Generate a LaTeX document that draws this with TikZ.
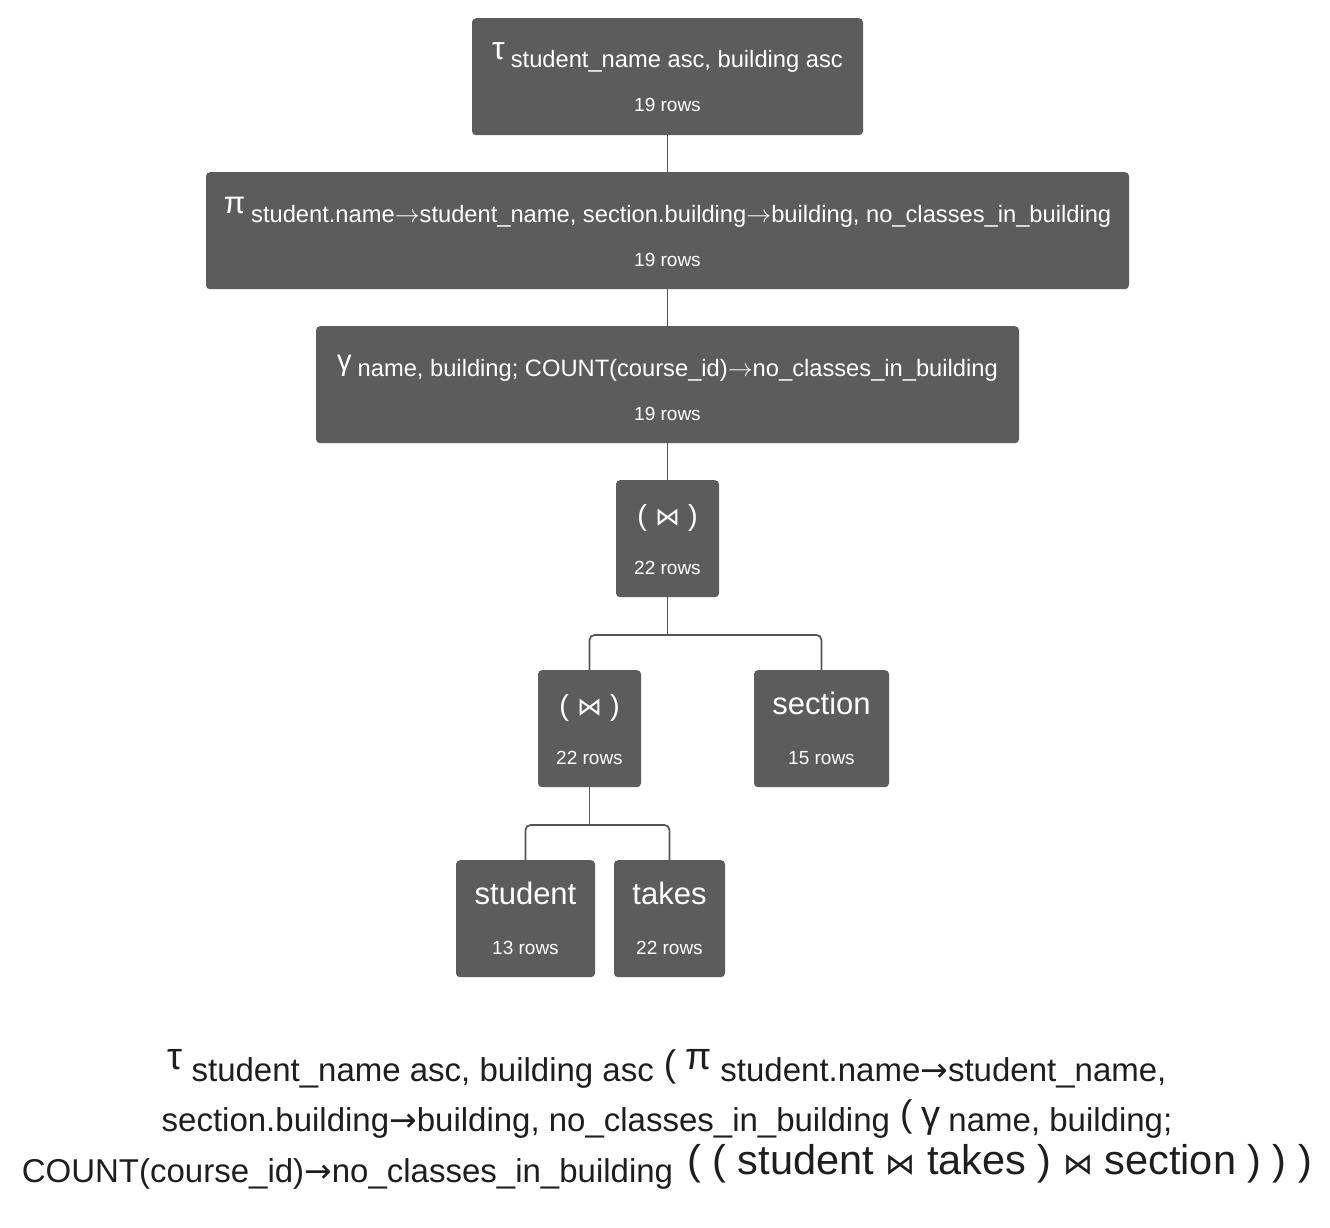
\documentclass[tikz,border=0pt]{standalone}
\usepackage{fontspec}
\setmainfont{Liberation Sans}
\newfontfamily\djv{DejaVu Sans}
\definecolor{boxgray}{HTML}{5C5C5C}
\definecolor{linegray}{HTML}{555555}
\definecolor{ink}{HTML}{1E1E1E}
\newcommand\fsz[1]{\fontsize{#1}{#1}\selectfont}
\newcommand\us{\symbol{95}}
\newcommand\bt[1]{{\fsz{#1}\djv ⋈}}
\newcommand\rar{\ensuremath{\rightarrow}}
\newcommand\barr{{\djv →}}
\newcommand\gsym[2]{\raisebox{#1}{\fsz{38}#2}}
\newcommand\bpar[1]{\raisebox{5pt}{\fsz{37}#1}}
\tikzset{
  opbox/.style={fill=boxgray, rounded corners=4pt, inner sep=0pt, minimum height=117pt, anchor=north},
  ttl/.style={text=white, font={\fsz{23.7}}, inner sep=0pt, anchor=base},
  reltxt/.style={text=white, font={\fsz{31}}, inner sep=0pt, anchor=base},
  jointxt/.style={text=white, font={\fsz{29}}, inner sep=0pt, anchor=base},
  rowtxt/.style={text=white, font={\fsz{19}}, inner sep=0pt, anchor=base},
  conn/.style={draw=linegray, line width=1.7pt, rounded corners=5pt},
  expr/.style={text=ink, font={\fsz{33}}, inner sep=0pt, anchor=base}
}
\begin{document}
\begin{tikzpicture}[x=1pt,y=-1pt]
\path[fill=white] (0,0) rectangle (1330,1228);
\useasboundingbox (0,0) rectangle (1330,1228);

% operator boxes
\node[opbox, minimum width=391pt] (sort) at (667.5,18) {};
\node[ttl] (sort-t) at ([yshift=-50pt]sort.north) {\raisebox{8pt}{\fsz{32}τ}\hspace{6pt}student\us name asc, building asc};
\node[rowtxt] (sort-r) at ([yshift=-94pt]sort.north) {19 rows};

\node[opbox, minimum width=923pt] (proj) at (667.5,172) {};
\node[ttl] (proj-t) at ([yshift=-50pt]proj.north) {\raisebox{9pt}{\fsz{31}π}\hspace{6pt}student.name\rar student\us name, section.building\rar building, no\us classes\us in\us building};
\node[rowtxt] (proj-r) at ([yshift=-94pt]proj.north) {19 rows};

\node[opbox, minimum width=703pt] (grp) at (667.5,326) {};
\node[ttl] (grp-t) at ([yshift=-50pt]grp.north) {\raisebox{6pt}{\fsz{29}γ}\hspace{6pt}name, building; COUNT(course\us id)\rar no\us classes\us in\us building};
\node[rowtxt] (grp-r) at ([yshift=-94pt]grp.north) {19 rows};

\node[opbox, minimum width=103pt] (j1) at (667.5,480) {};
\node[jointxt] (j1-t) at ([yshift=-45pt]j1.north) {( \bt{25} )};
\node[rowtxt] (j1-r) at ([yshift=-94pt]j1.north) {22 rows};

\node[opbox, minimum width=103pt] (j2) at (589.5,670) {};
\node[jointxt] (j2-t) at ([yshift=-45pt]j2.north) {( \bt{25} )};
\node[rowtxt] (j2-r) at ([yshift=-94pt]j2.north) {22 rows};

\node[opbox, minimum width=135pt] (sec) at (821.5,670) {};
\node[reltxt] (sec-t) at ([yshift=-44pt]sec.north) {section};
\node[rowtxt] (sec-r) at ([yshift=-94pt]sec.north) {15 rows};

\node[opbox, minimum width=139pt] (stu) at (525.5,860) {};
\node[reltxt] (stu-t) at ([yshift=-44pt]stu.north) {student};
\node[rowtxt] (stu-r) at ([yshift=-94pt]stu.north) {13 rows};

\node[opbox, minimum width=111pt] (tak) at (669.5,860) {};
\node[reltxt] (tak-t) at ([yshift=-44pt]tak.north) {takes};
\node[rowtxt] (tak-r) at ([yshift=-94pt]tak.north) {22 rows};

% connectors
\draw[conn] (sort.south) -- (proj.north);
\draw[conn] (proj.south) -- (grp.north);
\draw[conn] (grp.south) -- (j1.north);
\coordinate (m1) at (667.5,635);
\draw[conn] (j1.south) -- (m1);
\draw[conn] (j2.north) |- (m1) -| (sec.north);
\coordinate (m2) at (589.5,825);
\draw[conn] (j2.south) -- (m2);
\draw[conn] (stu.north) |- (m2) -| (tak.north);

% expression
\node[expr] (e1) at (667,1081) {\gsym{12pt}{τ}\hspace{9pt}student\us name asc, building asc\hspace{10pt}\bpar{(}\hspace{9pt}\gsym{12pt}{π}\hspace{9pt}student.name\barr student\us name,};
\node[expr] (e2) at (667,1131) {section.building\barr building, no\us classes\us in\us building\hspace{10pt}\bpar{(}\hspace{9pt}\gsym{4pt}{γ}\hspace{8pt}name, building;};
\node[expr] (e3) at (667,1182) {COUNT(course\us id)\barr no\us classes\us in\us building\hspace{14pt}\raisebox{8pt}{\fsz{41.5}( ( student \bt{30} takes ) \bt{30} section ) ) )}};
\end{tikzpicture}
\end{document}
